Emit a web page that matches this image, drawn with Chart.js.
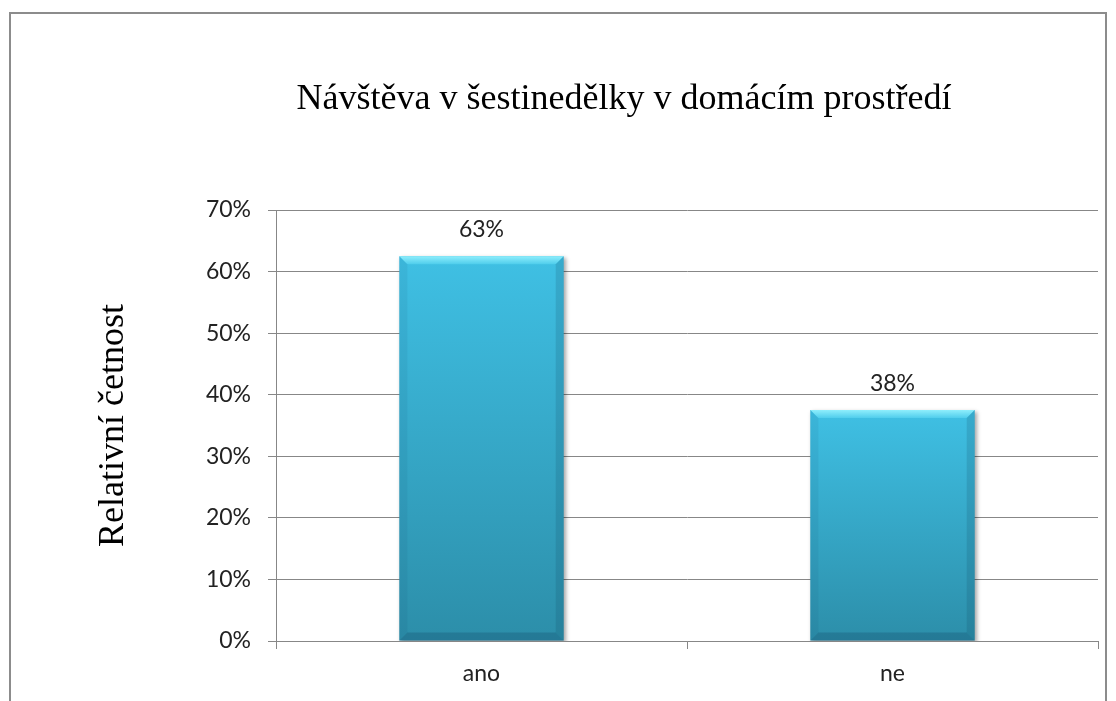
<!DOCTYPE html>
<html lang="cs">
<head>
<meta charset="utf-8">
<title>Návštěva v šestinedělky v domácím prostředí</title>
<script src="https://cdn.jsdelivr.net/npm/chart.js@4.4.1/dist/chart.umd.min.js"></script>
<style>
  html, body { margin: 0; padding: 0; background: #fff; }
  canvas { display: block; }
</style>
</head>
<body>
<canvas id="navstevy" width="1116" height="701"></canvas>
<script>
const categories = ['ano', 'ne'];
const shares = [62.5, 37.5];          // relativní četnost v %
const yTicks = [0, 10, 20, 30, 40, 50, 60, 70];

const chartTitle = 'Návštěva v šestinedělky v domácím prostředí';
const yTitle = 'Relativní četnost';

const gridGray = '#878787';
const sansFont = 'Lato, "Open Sans", sans-serif';
const serifFont = '"Liberation Serif", "Times New Roman", serif';
const labelSize = 23;

// frame around the whole chart object + the main title
const frameAndTitle = {
  id: 'frameAndTitle',
  beforeDraw(chart) {
    const c = chart.ctx;
    c.save();
    c.fillStyle = '#fff';
    c.fillRect(0, 0, chart.width, chart.height);
    c.strokeStyle = '#8c8c8c';
    c.lineWidth = 2;
    c.strokeRect(10, 13, 1096, 720);
    c.font = '36px ' + serifFont;
    c.fillStyle = '#000';
    c.textAlign = 'center';
    c.textBaseline = 'middle';
    c.fillText(chartTitle, 624, 100);
    c.restore();
  }
};

// soft shadow under the bars, bevelled edges and value labels on top
const bevelBars = {
  id: 'bevelBars',
  beforeDatasetsDraw(chart) {
    const c = chart.ctx;
    c.save();
    c.shadowColor = 'rgba(0,0,0,0.35)';
    c.shadowBlur = 4;
    c.shadowOffsetX = 2;
    c.shadowOffsetY = 2;
  },
  afterDatasetsDraw(chart) {
    const c = chart.ctx;
    c.restore();
    const meta = chart.getDatasetMeta(0);
    const b = 8;
    meta.data.forEach((bar, i) => {
      const l = bar.x - bar.width / 2, r = bar.x + bar.width / 2;
      const t = bar.y, btm = bar.base;
      c.save();
      // top face
      const g = c.createLinearGradient(0, t, 0, t + b);
      g.addColorStop(0, '#8eeefc');
      g.addColorStop(1, '#4fcdec');
      c.fillStyle = g;
      c.beginPath();
      c.moveTo(l, t); c.lineTo(r, t); c.lineTo(r - b, t + b); c.lineTo(l + b, t + b);
      c.closePath(); c.fill();
      // left face
      c.fillStyle = 'rgba(10,70,100,0.08)';
      c.beginPath();
      c.moveTo(l, t); c.lineTo(l + b, t + b); c.lineTo(l + b, btm - b); c.lineTo(l, btm);
      c.closePath(); c.fill();
      // right face
      c.fillStyle = 'rgba(10,60,90,0.16)';
      c.beginPath();
      c.moveTo(r, t); c.lineTo(r - b, t + b); c.lineTo(r - b, btm - b); c.lineTo(r, btm);
      c.closePath(); c.fill();
      // bottom face
      c.fillStyle = 'rgba(10,50,80,0.22)';
      c.beginPath();
      c.moveTo(l, btm); c.lineTo(l + b, btm - b); c.lineTo(r - b, btm - b); c.lineTo(r, btm);
      c.closePath(); c.fill();
      // value label
      c.font = labelSize + 'px ' + sansFont;
      c.fillStyle = '#222';
      c.textAlign = 'center';
      c.textBaseline = 'middle';
      c.fillText(Math.round(shares[i]) + '%', bar.x, t - 27);
      c.restore();
    });
  }
};

new Chart(document.getElementById('navstevy'), {
  type: 'bar',
  data: {
    labels: categories,
    datasets: [{
      data: shares,
      backgroundColor(ctx) {
        const chart = ctx.chart;
        if (!chart.chartArea || ctx.raw == null) return '#38b2d6';
        const y = chart.scales.y;
        const top = y.getPixelForValue(ctx.raw);
        const bottom = y.getPixelForValue(0);
        const g = chart.ctx.createLinearGradient(0, top, 0, bottom);
        g.addColorStop(0, '#3fc0e4');
        g.addColorStop(1, '#2c8ea9');
        return g;
      },
      borderWidth: 0,
      barPercentage: 0.4,
      categoryPercentage: 1
    }]
  },
  options: {
    responsive: false,
    animation: false,
    layout: { padding: { left: 88, right: 18, top: 210, bottom: 0 } },
    plugins: {
      legend: { display: false },
      tooltip: { enabled: false },
      title: { display: false }
    },
    scales: {
      x: {
        grid: { drawOnChartArea: false, tickLength: 8, color: gridGray, offset: true },
        border: { color: gridGray },
        ticks: { font: { family: sansFont, size: labelSize }, color: '#222', padding: 11 },
        afterFit(s) { s.height = 60; }
      },
      y: {
        min: 0,
        max: 70,
        afterBuildTicks(s) { s.ticks = yTicks.map(v => ({ value: v })); },
        ticks: {
          callback: v => v + '%',
          font: { family: sansFont, size: labelSize },
          color: '#222',
          padding: 17
        },
        grid: { color: gridGray, tickLength: 8 },
        border: { color: gridGray },
        title: {
          display: true,
          text: yTitle,
          font: { family: serifFont, size: 36 },
          color: '#000',
          padding: { top: 4, bottom: 0 }
        },
        afterFit(s) { s.width = 188; }
      }
    }
  },
  plugins: [frameAndTitle, bevelBars]
});
</script>
</body>
</html>
